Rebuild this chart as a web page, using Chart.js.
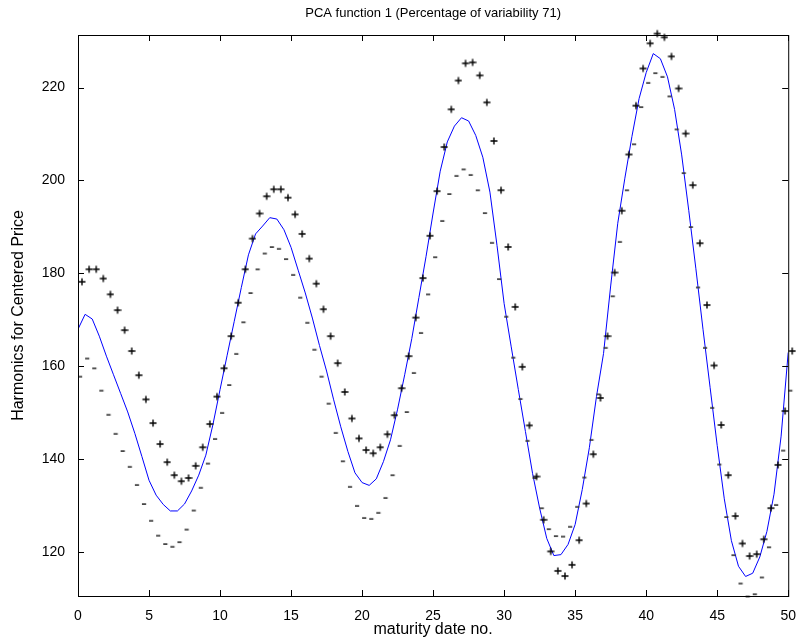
<!DOCTYPE html>
<html><head><meta charset="utf-8">
<script src="https://cdn.jsdelivr.net/npm/chart.js@4.4.0/dist/chart.umd.min.js"></script>
<style>html,body{margin:0;padding:0;background:#fff;}#wrap{width:800px;height:639px;}</style>
</head><body><div id="wrap"><canvas id="c" width="800" height="639"></canvas></div>
<script>
const xValues = [0,0.5,1,1.5,2,2.5,3,3.5,4,4.5,5,5.5,6,6.5,7,7.5,8,8.5,9,9.5,10,10.5,11,11.5,12,12.5,13,13.5,14,14.5,15,15.5,16,16.5,17,17.5,18,18.5,19,19.5,20,20.5,21,21.5,22,22.5,23,23.5,24,24.5,25,25.5,26,26.5,27,27.5,28,28.5,29,29.5,30,30.5,31,31.5,32,32.5,33,33.5,34,34.5,35,35.5,36,36.5,37,37.5,38,38.5,39,39.5,40,40.5,41,41.5,42,42.5,43,43.5,44,44.5,45,45.5,46,46.5,47,47.5,48,48.5,49,49.5,50];
const meanLine = [168.0,171.2,170.2,166.5,162.2,158.2,154.2,150.2,145.6,140.6,135.5,132.3,130.3,128.9,128.9,130.4,133.2,136.6,140.9,147.5,155.0,162.4,169.7,177.0,184.0,188.5,190.2,192.0,191.7,189.4,185.6,180.7,175.8,170.4,164.5,159.0,152.8,147.0,141.7,137.1,135.0,134.4,135.8,139.5,144.2,150.8,158.2,166.0,174.8,183.6,193.0,202.0,208.3,211.7,213.5,212.8,209.7,205.0,197.5,186.0,173.5,164.2,155.0,146.0,137.0,129.5,123.0,119.3,119.5,121.7,126.0,133.5,142.5,153.5,162.8,177.3,190.8,200.5,209.5,217.6,223.2,227.3,226.2,222.3,215.3,205.5,193.5,181.0,168.0,155.5,143.0,131.5,122.5,117.0,114.8,115.5,119.0,124.5,132.5,145.0,163.0];
const plusValues = [178.2,180.9,180.9,178.9,175.5,172.1,167.8,163.3,158.1,152.9,147.8,143.3,139.4,136.6,135.3,136.0,138.6,142.6,147.6,153.5,159.6,166.5,173.7,180.9,187.5,192.9,196.6,198.1,198.1,196.3,192.7,188.5,183.2,177.8,172.3,166.5,160.7,154.5,148.8,144.5,142.0,141.3,142.6,145.4,149.5,155.3,162.2,170.5,179.0,188.1,197.7,207.2,215.3,221.5,225.2,225.4,222.6,216.8,208.5,197.9,185.7,172.8,159.9,147.3,136.3,127.0,120.2,116.0,114.9,117.3,122.6,130.5,141.1,153.2,166.5,180.2,193.5,205.6,216.1,224.1,229.5,231.6,230.8,226.7,219.8,210.1,199.0,186.5,173.2,160.2,147.4,136.6,127.8,121.9,119.2,119.6,122.8,129.5,138.8,150.4,163.3];
const minusValues = [157.8,161.7,159.6,154.8,149.6,145.5,141.8,138.4,134.5,130.4,126.8,123.6,121.8,121.2,122.2,124.9,129.0,133.9,139.1,144.4,150.0,156.0,162.7,169.5,175.8,180.9,184.3,185.7,185.3,183.1,179.7,174.8,169.4,163.6,157.8,152.0,145.7,139.6,134.1,130.0,127.4,127.2,128.5,131.7,136.6,142.9,150.2,158.6,167.2,175.5,183.5,191.3,197.1,201.0,202.4,201.2,197.9,193.0,186.6,178.8,170.7,161.9,153.0,144.0,136.0,129.5,125.0,123.5,123.4,125.5,129.8,136.1,144.2,154.0,164.0,175.1,186.8,197.9,207.8,215.8,221.0,223.1,222.3,218.1,211.0,201.6,190.0,177.0,164.0,151.1,138.9,127.6,119.4,113.3,110.5,111.0,114.6,121.1,130.2,141.9,154.8];
const xTickValues = [0,5,10,15,20,25,30,35,40,45,50];
const yTickValues = [120,140,160,180,200,220];
const titleText = 'PCA function 1 (Percentage of variability 71)';
const xLabel = 'maturity date no.';
const yLabel = 'Harmonics for Centered Price';

const FONT = "'Liberation Sans', Arial, Helvetica, sans-serif";

function makeGlyph(kind){
  const c = document.createElement('canvas');
  c.width = 16; c.height = 16;
  const g = c.getContext('2d');
  if (kind === 'plus'){
    g.strokeStyle = '#000'; g.lineWidth = 1.4;
    g.beginPath();
    g.moveTo(8.5, 8); g.lineTo(15.5, 8);
    g.moveTo(12, 4.5); g.lineTo(12, 11.5);
    g.stroke();
  } else {
    g.fillStyle = '#333';
    g.fillRect(8, 7.3, 4.2, 1.6);
  }
  return c;
}
const plusGlyph = makeGlyph('plus');
const minusGlyph = makeGlyph('minus');

const pts = arr => xValues.map((x,i)=>({x:x, y:arr[i]}));

const framePlugin = {
  id:'frame',
  afterDatasetsDraw(chart){
    const {ctx, chartArea:a, scales} = chart;
    const xs = scales.x, ys = scales.y;
    ctx.save();
    ctx.strokeStyle = '#000'; ctx.lineWidth = 1;
    ctx.beginPath();
    xTickValues.forEach(v=>{
      const p = Math.round(xs.getPixelForValue(v)) + 0.5;
      ctx.moveTo(p, a.bottom); ctx.lineTo(p, a.bottom - 6);
      ctx.moveTo(p, a.top); ctx.lineTo(p, a.top + 6);
    });
    yTickValues.forEach(v=>{
      const p = Math.round(ys.getPixelForValue(v)) + 0.5;
      ctx.moveTo(a.left, p); ctx.lineTo(a.left + 6, p);
      ctx.moveTo(a.right, p); ctx.lineTo(a.right - 6, p);
    });
    ctx.stroke();
    ctx.strokeRect(a.left + 0.5, a.top + 0.5, a.right - a.left, a.bottom - a.top);
    ctx.restore();
  }
};

new Chart(document.getElementById('c').getContext('2d'), {
  type:'scatter',
  data:{datasets:[
    {label:'mean', data:pts(meanLine), showLine:true, borderColor:'#0000ff', borderWidth:1, pointRadius:0, tension:0, fill:false, order:3},
    {label:'minus', data:pts(minusValues), showLine:false, pointStyle:minusGlyph, pointRadius:4, clip:false, order:2},
    {label:'plus', data:pts(plusValues), showLine:false, pointStyle:plusGlyph, pointRadius:4, clip:false, order:1}
  ]},
  options:{
    responsive:false, animation:false, events:[],
    layout:{padding:{left:0, right:9, top:0, bottom:0}},
    plugins:{legend:{display:false}, tooltip:{enabled:false}, title:{display:false}},
    scales:{
      x:{type:'linear', position:'bottom', min:0, max:50,
         afterBuildTicks:s=>{ s.ticks = xTickValues.map(v=>({value:v})); },
         ticks:{color:'#000', font:{family:FONT, size:14}, padding:4, maxRotation:0, autoSkip:false},
         grid:{display:false}, border:{display:false},
         title:{display:true, text:xLabel, color:'#000', font:{family:FONT, size:16}, padding:{top:0, bottom:0}},
         afterFit:s=>{ s.height = 43; }},
      x2:{type:'linear', position:'top', min:0, max:50,
         ticks:{display:false}, grid:{display:false}, border:{display:false},
         title:{display:true, text:titleText, color:'#000', font:{family:FONT, size:13}, padding:{top:5.5, bottom:0}},
         afterFit:s=>{ s.height = 35; }},
      y:{type:'linear', position:'left', min:110.6, max:231.3,
         afterBuildTicks:s=>{ s.ticks = yTickValues.map(v=>({value:v})); },
         ticks:{color:'#000', font:{family:FONT, size:14}, padding:5},
         grid:{display:false}, border:{display:false},
         title:{display:true, text:yLabel, color:'#000', font:{family:FONT, size:16}, padding:{top:8.5, bottom:0}},
         afterFit:s=>{ s.width = 78; }}
    }
  },
  plugins:[framePlugin]
});
</script>
</body></html>
